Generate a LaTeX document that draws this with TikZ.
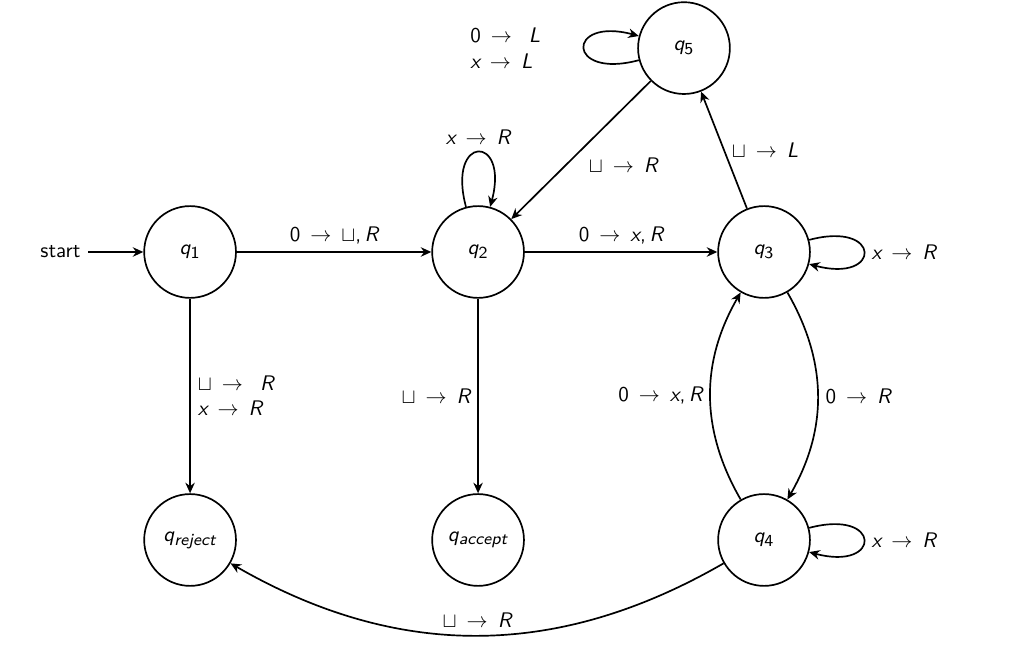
\documentclass[tikz,border=0pt]{standalone}
\usepackage{amsmath}
\usepackage{amssymb}
\renewcommand{\familydefault}{\sfdefault}
\usepackage[italic]{mathastext}
\usetikzlibrary{arrows.meta, positioning}
\usepackage{xcolor}
\thickmuskip=8.5mu

\begin{document}
\begin{tikzpicture}[x=4.8cm,y=4.8cm,>={Stealth[length=5pt,width=4.5pt]},thick]
    % styles
    \tikzset{state/.style={circle,draw,minimum size=15.3mm,inner sep=0pt}}
    \useasboundingbox (-0.66,-1.396) rectangle (2.854,0.875);
    % nodes
    \node[state] (q1)   at (0,0)        {$q_1$};
    \node[state] (q2)   at (1,0)        {$q_2$};
    \node[state] (q3)   at (1.993,0)    {$q_3$};
    \node[state] (q4)   at (1.993,-1)   {$q_4$};
    \node[state] (q5)   at (1.715,0.708) {$q_5$};
    \node[state] (qrej) at (0,-1)       {$q_{reject}$};
    \node[state] (qacc) at (1,-1)       {$q_{accept}$};
    \node (start) at (-0.45,0) {start};

    % transitions
    \draw[->] (start) -- (q1);
    \draw[->] (q1) -- node[above] {$0 \rightarrow \sqcup, R$} (q2);
    \draw[->] (q2) -- node[above] {$0 \rightarrow x, R$} (q3);
    \draw[->] (q1) -- node[right,align=left] {$\sqcup \rightarrow\ R$\\$x \rightarrow R$} (qrej);
    \draw[->] (q2) -- node[left] {$\sqcup \rightarrow R$} (qacc);
    \draw[->] (q2) to[loop above] node[above] {$x \rightarrow R$} (q2);
    \draw[->] (q5) to[loop left] node[left=6mm,align=left] {$0 \rightarrow\ L$\\$x \rightarrow L$} (q5);
    \draw[->] (q5) -- node[below right] {$\sqcup \rightarrow R$} (q2);
    \draw[->] (q3) -- node[right] {$\sqcup \rightarrow L$} (q5);
    \draw[->] (q3) to[loop right] node[right] {$x \rightarrow R$} (q3);
    \draw[->] (q4) to[loop right] node[right] {$x \rightarrow R$} (q4);
    \draw[->] (q3) to[bend left] node[right] {$0 \rightarrow R$} (q4);
    \draw[->] (q4) to[bend left] node[left] {$0 \rightarrow x, R$} (q3);
    \draw[->] (q4) to[bend left=30] node[above] {$\sqcup \rightarrow R$} (qrej);
\end{tikzpicture}
\end{document}
